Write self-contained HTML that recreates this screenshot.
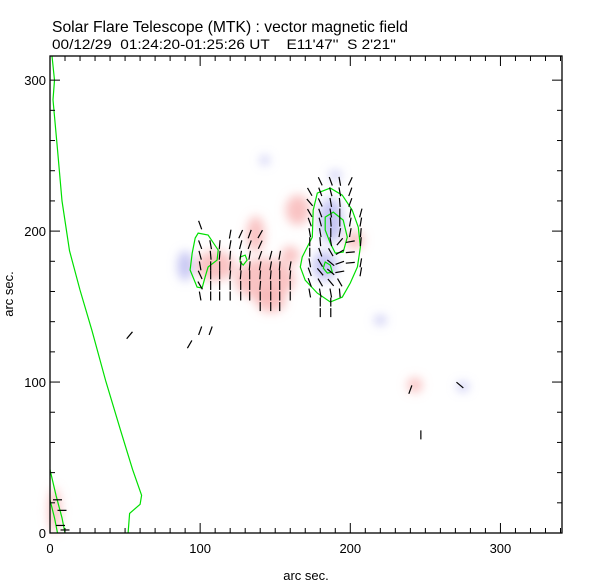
<!DOCTYPE html>
<html><head><meta charset="utf-8">
<style>
body{margin:0;background:#fff;}
svg{display:block;font-family:"Liberation Sans",sans-serif;}
</style></head>
<body>
<svg id="c" width="612" height="585" viewBox="0 0 612 585">
<defs>
<filter id="blur" x="-50%" y="-50%" width="200%" height="200%"><feGaussianBlur stdDeviation="5"/></filter>
</defs>
<text x="52" y="32" font-size="16" textLength="356" lengthAdjust="spacingAndGlyphs">Solar Flare Telescope (MTK) : vector magnetic field</text>
<text x="52" y="49" font-size="14" textLength="344" lengthAdjust="spacingAndGlyphs" xml:space="preserve">00/12/29  01:24:20-01:25:26 UT    E11'47''  S 2'21''</text>
<text x="306" y="580" font-size="13" text-anchor="middle">arc sec.</text>
<text x="13" y="294" font-size="13" text-anchor="middle" transform="rotate(-90 13 294)">arc sec.</text>
<g id="blobs" filter="url(#blur)"></g>
<g id="contours"></g>
<g id="vectors"></g>
<g id="axes"></g>
</svg>
<script>
const xTicks=[0,100,200,300];
const yTicks=[0,100,200,300];
const xMax=341, yMax=316;
const blobColor=["r","r","r","r","r","r","r","r","r","b","b","b","b","b","b","b"];
const blobX=[110,143,137,165,203,160,243,3,147,90,187,183,220,275,143,190];
const blobY=[177,168,198,214,194,184,98,15,154,177,207,177,141,97,247,237];
const blobRX=[13,20,6,8,6,6,5,4,10,5,8,8,4,4,3,4];
const blobRY=[10,14,12,10,6,6,5,15,8,10,15,10,3,3,3,3];
const limb=[[1.3,316],[3,300],[2,287],[5,254],[8,220],[13,187],[20,161],[28,134],[37,101],[47,68],[55,42],[61,25],[60,19],[53,13],[52,0]];
const limb2=[[0,42],[4,25],[8,10],[10,0]];
const limb3=[[0,22],[3,10],[5,0]];
const contLeft=[[98.7,198.7],[105.3,197.4],[112,187.4],[111.3,180.8],[105.3,176.2],[103.3,169.5],[101.3,162.3],[98,162.9],[93.3,174.2],[94.7,185.4],[96.7,195.4]];
const contBig=[[178,225.2],[186.7,228.5],[194.7,223.8],[201.3,213.9],[205.3,202.6],[206.7,189.4],[204.7,176.2],[200,165.6],[194.7,156.3],[186.7,153],[178,158.9],[170,167.5],[166.7,176.2],[168,182.8],[171.3,189.4],[174.7,196],[175.3,213.9]];
const contInner=[[183.3,209.3],[188.7,212.6],[195.3,207.3],[198,196],[195.3,186.1],[190,185.4],[186.7,192],[183.3,200.7]];
const contSmall1=[[183.3,179.5],[186.7,177.5],[188,172.8],[184.7,172.2],[182,175.5]];
const contSmall2=[[126.7,182.8],[130,184.1],[131.3,180.8],[128.7,177.5],[126.7,179.5]];
const leftCols=[100,107,113,120,127,133,140,147,153,160];
const leftRows=[204,198,191,184,177,171,164,157,150];
const leftAng=[
[-20,null,null,null,null,null,null,null,null,null],
[null,null,null,10,25,20,30,null,null,null],
[-20,-10,5,10,15,20,25,null,null,null],
[-15,-5,5,5,10,10,20,15,10,null],
[-10,0,0,5,5,5,10,10,5,10],
[-25,0,0,5,5,0,5,5,0,5],
[-30,0,0,0,0,0,5,0,0,0],
[-10,0,0,0,0,0,0,0,0,0],
[null,null,null,null,null,null,0,0,0,null]];
const rightCols=[173,180,187,193,200,207];
const rightRows=[233,226,219,212,206,199,193,186,179,173,166,159,153,146];
const rightAng=[
[null,-25,-20,-10,25,null],
[-30,-20,-15,-10,20,null],
[-40,-25,-10,-5,20,null],
[-30,-20,-10,0,10,15],
[-20,-15,-5,0,10,10],
[-10,-10,0,10,10,5],
[0,-5,-10,40,80,5],
[0,-20,-30,60,85,null],
[-10,-30,-50,70,85,10],
[-20,-40,-50,80,null,10],
[-20,-30,-40,-30,null,null],
[-10,-10,-10,-5,null,null],
[null,0,0,null,null,null],
[null,0,0,null,null,null]];
const isoX=[53,93,100,107,240,273,247,8,7,10,5];
const isoY=[131,125,134,134,95,98,65,15,5,2,22];
const isoA=[40,30,20,20,20,-50,0,90,90,90,90];

const L=50,R=562,T=56,B=533;
const sx=v=>L+v*(R-L)/xMax;
const sy=v=>B-v*(B-T)/yMax;
const NS="http://www.w3.org/2000/svg";
function mk(tag,attrs,parent){const e=document.createElementNS(NS,tag);for(const k in attrs)e.setAttribute(k,attrs[k]);parent.appendChild(e);return e;}
const gB=document.getElementById('blobs'),gC=document.getElementById('contours'),gV=document.getElementById('vectors'),gA=document.getElementById('axes');
for(let i=0;i<blobX.length;i++){
 const e=mk('ellipse',{cx:sx(blobX[i]),cy:sy(blobY[i]),rx:blobRX[i]*1.5,ry:blobRY[i]*1.5,fill:blobColor[i]==='r'?'#f7b4b4':'#b8b8f0','fill-opacity':0.8},gB);
 
 
}
function poly(pts,closed,name){
 const d=pts.map((p,i)=>(i?'L':'M')+sx(p[0]).toFixed(1)+' '+sy(p[1]).toFixed(1)).join(' ')+(closed?' Z':'');
 const e=mk('path',{d:d,fill:'none',stroke:'#00e000','stroke-width':1.2},gC);
 
 
}
poly(limb,false,'limb-contour');poly(limb2,false,'limb-contour-2');poly(limb3,false,'limb-contour-3');
poly(contLeft,true,'contour-left');poly(contBig,true,'contour-main');poly(contInner,true,'contour-inner');
poly(contSmall1,true,'contour-small');poly(contSmall2,true,'contour-small-2');
function vec(x,y,a){
 const r=a*Math.PI/180,h=4.5;
 const dx=Math.sin(r)*h,dy=-Math.cos(r)*h,cx=sx(x),cy=sy(y);
 const e=mk('line',{x1:cx-dx,y1:cy-dy,x2:cx+dx,y2:cy+dy,stroke:'#000','stroke-width':1.2},gV);
 
 
}
leftRows.forEach((y,j)=>leftCols.forEach((x,i)=>{const a=leftAng[j][i];if(a!==null)vec(x,y,a);}));
rightRows.forEach((y,j)=>rightCols.forEach((x,i)=>{const a=rightAng[j][i];if(a!==null)vec(x,y,a);}));
for(let i=0;i<isoX.length;i++)vec(isoX[i],isoY[i],isoA[i]);
const fr=mk('rect',{x:L,y:T,width:R-L,height:B-T,fill:'none',stroke:'#000','stroke-width':1.3},gA);


for(let v=0;v<=xMax;v+=10){const big=v%100===0,len=big?10:5,x=sx(v);
 mk('line',{x1:x,y1:B,x2:x,y2:B-len,stroke:'#000'},gA);mk('line',{x1:x,y1:T,x2:x,y2:T+len,stroke:'#000'},gA);}
for(let v=0;v<=yMax;v+=20){const big=v%100===0,len=big?10:5,y=sy(v);
 mk('line',{x1:L,y1:y,x2:L+len,y2:y,stroke:'#000'},gA);mk('line',{x1:R,y1:y,x2:R-len,y2:y,stroke:'#000'},gA);}
xTicks.forEach(v=>{const t=mk('text',{x:sx(v),y:B+20,'font-size':13,'text-anchor':'middle'},gA);t.textContent=v;
 
 });
yTicks.forEach(v=>{const t=mk('text',{x:L-4,y:sy(v)+5,'font-size':13,'text-anchor':'end'},gA);t.textContent=v;
 
 });
</script>
</body></html>
